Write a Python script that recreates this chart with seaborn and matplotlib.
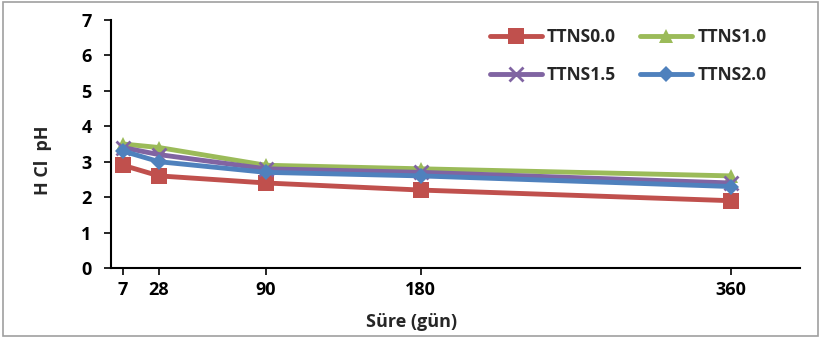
import matplotlib
matplotlib.use("Agg")
import matplotlib.pyplot as plt
import seaborn as sns
import pandas as pd
from matplotlib.patches import Rectangle

days = [7, 28, 90, 180, 360]
ttns00 = [2.9, 2.6, 2.4, 2.2, 1.9]
ttns10 = [3.5, 3.4, 2.9, 2.8, 2.6]
ttns15 = [3.4, 3.2, 2.8, 2.7, 2.4]
ttns20 = [3.3, 3.0, 2.7, 2.6, 2.3]
series_names = ["TTNS0.0", "TTNS1.0", "TTNS1.5", "TTNS2.0"]

rows = []
for name, vals in zip(series_names, [ttns00, ttns10, ttns15, ttns20]):
    for d, v in zip(days, vals):
        rows.append({"day": d, "pH": v, "series": name})
df = pd.DataFrame(rows)

sns.set_style("white")
plt.rcParams['font.family'] = ['Open Sans', 'DejaVu Sans']

fig = plt.figure(figsize=(8.21, 3.38), dpi=100)
ax = fig.add_axes([0.135, 0.207, 0.839, 0.734])

palette = {"TTNS0.0": "#C0504D", "TTNS1.0": "#9BBB59", "TTNS1.5": "#8064A2", "TTNS2.0": "#4F81BD"}
markers = {"TTNS0.0": "s", "TTNS1.0": "^", "TTNS1.5": "x", "TTNS2.0": "D"}
sizes = {"TTNS0.0": 11, "TTNS1.0": 10, "TTNS1.5": 10, "TTNS2.0": 8}

for name in series_names:
    sub = df[df.series == name]
    sns.lineplot(data=sub, x="day", y="pH", ax=ax, color=palette[name],
                 marker=markers[name], markersize=sizes[name], linewidth=3.5,
                 markeredgewidth=2 if name == "TTNS1.5" else 0,
                 markeredgecolor=palette[name], label=name)

ax.set_xlim(0, 400)
ax.set_ylim(0, 7)
ax.set_xticks(days)
ax.set_yticks(range(0, 8))
ax.tick_params(axis='both', direction='out', length=5, width=1.2, colors='black',
               labelsize=13, left=True, bottom=True)
ax.tick_params(axis='y', pad=9)
ax.tick_params(axis='x', pad=4)
for lab in ax.get_xticklabels() + ax.get_yticklabels():
    lab.set_fontweight('bold')
for s in ['top', 'right']:
    ax.spines[s].set_visible(False)
for s in ['left', 'bottom']:
    ax.spines[s].set_color('black')
    ax.spines[s].set_linewidth(1.5)

ax.set_xlabel("Süre (gün)", fontsize=13, fontweight='bold')
ax.set_ylabel("H Cl  pH", fontsize=13, fontweight='bold')
ax.xaxis.set_label_coords(0.437, -0.18)
ax.yaxis.set_label_coords(-0.085, 0.435)

handles, labels = ax.get_legend_handles_labels()
order = [0, 2, 1, 3]
leg = ax.legend([handles[i] for i in order], [labels[i] for i in order],
                loc='upper right', ncol=2, frameon=False,
                prop={'weight': 'bold', 'size': 12.5}, handlelength=3,
                handletextpad=0.3, columnspacing=1.4, labelspacing=1.15,
                bbox_to_anchor=(0.975, 1.03))

fig.patches.append(Rectangle((0.004, 0.006), 0.992, 0.988, transform=fig.transFigure,
                             fill=False, edgecolor='#A0A0A0', linewidth=1.2))

fig.savefig("out.png", dpi=100)
